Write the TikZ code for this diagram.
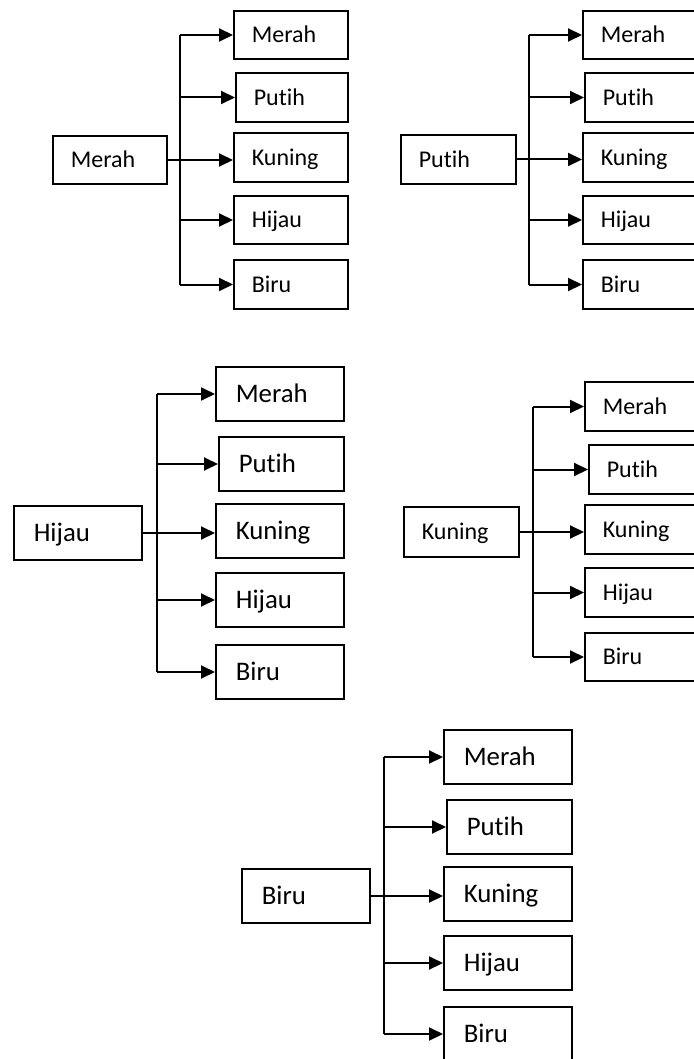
\documentclass[tikz,border=0pt]{standalone}
\usepackage{fontspec}
\setmainfont{Carlito}[Ligatures=NoCommon]
\usetikzlibrary{arrows.meta}

\tikzset{
  kotak/.style={draw,line width=0.8pt,anchor=west,align=left,inner ysep=0pt},
  kecil/.style={font=\fontsize{12}{14}\selectfont,inner xsep=9pt,text height=10pt,text depth=2.3pt},
  besar/.style={font=\fontsize{13.4}{16}\selectfont,inner xsep=10pt,text height=11pt,text depth=2.4pt},
  panah/.style={line width=1pt,-{Triangle[length=7pt,width=6.5pt]}},
  garis/.style={line width=1pt}
}

\begin{document}
\begin{tikzpicture}[x=0.5pt,y=-0.5pt]
  \useasboundingbox (0,0) rectangle (694,1059);
  \clip (0,0) rectangle (694,1059);
  % merah
  \node[kotak,kecil,text width=39pt,minimum height=24pt] (a0) at (52,160) {Merah};
  \coordinate (a-t) at (180,33);
  \foreach \n/\l/\t/\b [count=\k] in {Merah/233/11/59,Putih/235/73/122,Kuning/233/133/182,Hijau/233/196/244,Biru/233/260/309}{
    \pgfmathsetmacro\tw{(347-\l)/2-18}
    \pgfmathsetmacro\hh{(\b-\t)/2}
    \node[kotak,kecil,text width=\tw pt,minimum height=\hh pt] (a\k) at (\l,{(\t+\b)/2}) {\n};}
  \draw[garis] (a-t |- a1.west) -- (a-t |- a5.west);
  \foreach \k in {1,2,4,5}{\draw[panah] (a-t |- a\k.west) -- (a\k.west);}
  \draw[panah] (a0.east) -- (a0.east -| a3.west);
  % putih
  \node[kotak,kecil,text width=39.5pt,minimum height=24.5pt] (b0) at (400,159.5) {Putih};
  \coordinate (b-t) at (529,33);
  \foreach \n/\l/\t/\b [count=\k] in {Merah/582/11/59,Putih/584/73/122,Kuning/582/133/182,Hijau/582/196/244,Biru/582/260/309}{
    \pgfmathsetmacro\tw{(698-\l)/2-18}
    \pgfmathsetmacro\hh{(\b-\t)/2}
    \node[kotak,kecil,text width=\tw pt,minimum height=\hh pt] (b\k) at (\l,{(\t+\b)/2}) {\n};}
  \draw[garis] (b-t |- b1.west) -- (b-t |- b5.west);
  \foreach \k in {1,2,4,5}{\draw[panah] (b-t |- b\k.west) -- (b\k.west);}
  \draw[panah] (b0.east) -- (b0.east -| b3.west);
  % hijau
  \node[kotak,besar,text width=44pt,minimum height=27pt] (c0) at (13,533) {Hijau};
  \coordinate (c-t) at (157,394);
  \foreach \n/\l/\t/\b [count=\k] in {Merah/215/367/421,Putih/218/437/491,Kuning/215/504/558,Hijau/215/573/627,Biru/215/645/699}{
    \pgfmathsetmacro\tw{(343-\l)/2-20}
    \pgfmathsetmacro\hh{(\b-\t)/2}
    \node[kotak,besar,text width=\tw pt,minimum height=\hh pt] (c\k) at (\l,{(\t+\b)/2}) {\n};}
  \draw[garis] (c-t |- c1.west) -- (c-t |- c5.west);
  \foreach \k in {1,2,4,5}{\draw[panah] (c-t |- c\k.west) -- (c\k.west);}
  \draw[panah] (c0.east) -- (c0.east -| c3.west);
  % kuning
  \node[kotak,kecil,text width=39.5pt,minimum height=25pt] (d0) at (403,532) {Kuning};
  \coordinate (d-t) at (533,406);
  \foreach \n/\l/\t/\b [count=\k] in {Merah/584/382/431,Putih/588/445/494,Kuning/584/505/554,Hijau/584/568/617,Biru/584/633/681}{
    \pgfmathsetmacro\tw{(698-\l)/2-18}
    \pgfmathsetmacro\hh{(\b-\t)/2}
    \node[kotak,kecil,text width=\tw pt,minimum height=\hh pt] (d\k) at (\l,{(\t+\b)/2}) {\n};}
  \draw[garis] (d-t |- d1.west) -- (d-t |- d5.west);
  \foreach \k in {1,2,4,5}{\draw[panah] (d-t |- d\k.west) -- (d\k.west);}
  \draw[panah] (d0.east) -- (d0.east -| d3.west);
  % biru
  \node[kotak,besar,text width=44pt,minimum height=27pt] (e0) at (241,896) {Biru};
  \coordinate (e-t) at (384,757);
  \foreach \n/\l/\t/\b [count=\k] in {Merah/443/730/784,Putih/446/800/854,Kuning/443/867/921,Hijau/443/936/990,Biru/443/1007/1061}{
    \pgfmathsetmacro\tw{(571-\l)/2-20}
    \pgfmathsetmacro\hh{(\b-\t)/2}
    \node[kotak,besar,text width=\tw pt,minimum height=\hh pt] (e\k) at (\l,{(\t+\b)/2}) {\n};}
  \draw[garis] (e-t |- e1.west) -- (e-t |- e5.west);
  \foreach \k in {1,2,4,5}{\draw[panah] (e-t |- e\k.west) -- (e\k.west);}
  \draw[panah] (e0.east) -- (e0.east -| e3.west);
\end{tikzpicture}
\end{document}
